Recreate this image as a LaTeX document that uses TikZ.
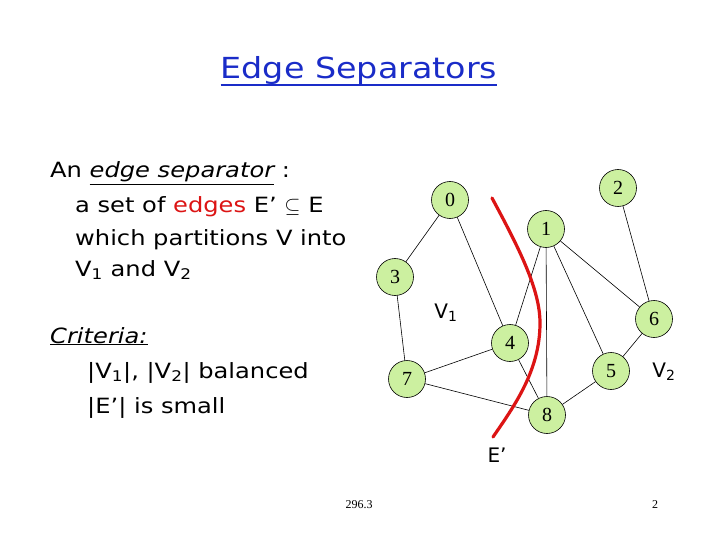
\documentclass[tikz,border=0pt]{standalone}
\usepackage{fontspec}
\setmainfont{DejaVu Sans}[FakeStretch=1.15]
\newfontfamily\plainsans{DejaVu Sans}
\newfontfamily\serifnum{Liberation Serif}
\definecolor{nodegreen}{RGB}{204,240,160}
\definecolor{titleblue}{RGB}{26,44,200}
\definecolor{cutred}{RGB}{220,20,20}
\begin{document}
\begin{tikzpicture}[x=1pt,y=-1pt,
  vtx/.style={circle,draw=black,fill=nodegreen,line width=0.6pt,minimum size=37pt,inner sep=0pt,font=\serifnum\fontsize{20}{20}\selectfont},
  edg/.style={line width=0.6pt},
  body/.style={anchor=base west,inner sep=0pt,font=\fontsize{21}{26}\selectfont},
  lbl/.style={inner sep=0pt,font=\plainsans\fontsize{20}{24}\selectfont},
  foot/.style={inner sep=0pt,anchor=base,font=\serifnum\fontsize{12}{14}\selectfont}]
\useasboundingbox (0,0) rectangle (720,540);
\fill[white] (0,0) rectangle (720,540);
% title
\node[anchor=base,inner sep=0pt,text=titleblue,font=\fontsize{29}{34}\selectfont] (title) at (359,79) {Edge Separators};
\draw[titleblue,line width=1.8pt] ([yshift=-6pt]title.base west) -- ([yshift=-6pt]title.base east);
% left text
\node[body] (t1) at (50,178) {An \underline{\itshape edge separator} :};
\node[body] (t2) at (75,213) {a set of \textcolor{cutred}{edges} E’ $\subseteq$ E};
\node[body] (t3) at (75,245) {which partitions V into};
\node[body] (t4) at (75,276) {V\textsubscript{1} and V\textsubscript{2}};
\node[body] (c1) at (50,343) {\underline{\itshape Criteria:}};
\node[body] (c2) at (87,378) {|V\textsubscript{1}|, |V\textsubscript{2}| balanced};
\node[body] (c3) at (87,413) {|E’| is small};
% vertices
\node[vtx] (n0) at (450,200) {0};
\node[vtx] (n2) at (618,188) {2};
\node[vtx] (n1) at (546,229) {1};
\node[vtx] (n3) at (395,277) {3};
\node[vtx] (n6) at (654,319) {6};
\node[vtx] (n4) at (510,343) {4};
\node[vtx] (n7) at (407,379) {7};
\node[vtx] (n5) at (611,371) {5};
\node[vtx] (n8) at (547,415) {8};
% edges
\draw[edg] (n0) -- (n3);
\draw[edg] (n0) -- (n4);
\draw[edg] (n3) -- (n7);
\draw[edg] (n7) -- (n4);
\draw[edg] (n7) -- (n8);
\draw[edg] (n4) -- (n8);
\draw[edg] (n4) -- (n1);
\draw[edg] (n1) -- (n8);
\draw[edg] (n1) -- (n5);
\draw[edg] (n1) -- (n6);
\draw[edg] (n2) -- (n6);
\draw[edg] (n6) -- (n5);
\draw[edg] (n5) -- (n8);
% cut
\coordinate (ctop) at (492,198);
\coordinate (cmid) at (540,323);
\coordinate (cbot) at (493,437);
\draw[cutred,line width=3.2pt,line cap=round] (ctop) .. controls (520,250) and (540,290) .. (cmid) .. controls (540,370) and (515,405) .. (cbot);
% labels
\node[lbl] (v1) at (446,313) {V\textsubscript{1}};
\node[lbl] (v2) at (664,372) {V\textsubscript{2}};
\node[lbl] (ep) at (497,455) {E’};
% footer
\node[foot] (f1) at (359,508) {296.3};
\node[foot] (f2) at (655,508) {2};
\end{tikzpicture}
\end{document}
